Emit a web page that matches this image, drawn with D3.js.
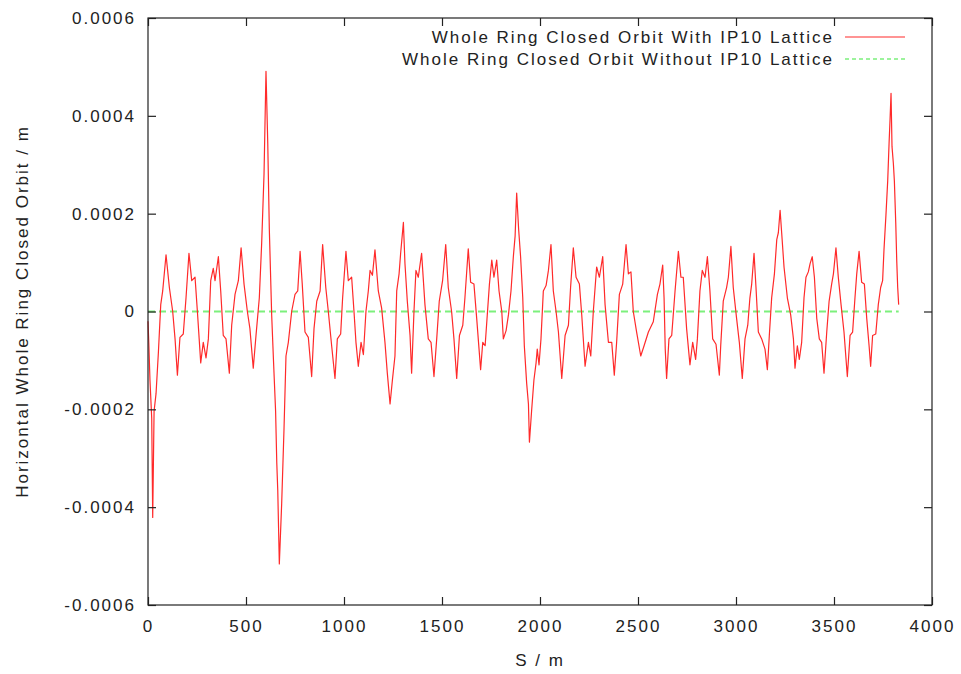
<!DOCTYPE html>
<html>
<head>
<meta charset="utf-8">
<script src="https://cdn.jsdelivr.net/npm/d3@7"></script>
<style>
  body { margin: 0; background: #fff; }
  text { font-family: "Liberation Sans", Arial, sans-serif; fill: #222; letter-spacing: 2px; }
</style>
</head>
<body>
<script>
// S position along the ring (m)
const sPos = [
  0, 4, 10, 19, 24, 31, 41, 53, 65, 75, 92, 109, 126, 138, 150, 163, 180, 194, 209, 223,
  240, 252, 269, 282, 296, 308, 320, 333, 342, 359, 371, 384, 398, 415, 427, 444, 461, 475, 490, 507,
  520, 537, 551, 568, 580, 592, 602, 611, 619, 631, 640, 651, 657, 662, 670, 682, 694, 704, 716, 733,
  750, 764, 776, 787, 801, 818, 835, 847, 861, 878, 891, 907, 920, 937, 954, 966, 983,
  993, 1010, 1022, 1039, 1051, 1061, 1073, 1087, 1099, 1112, 1124, 1133, 1145, 1158, 1175, 1192, 1209, 1221, 1235,
  1247, 1260, 1269, 1281, 1289, 1303, 1311, 1323, 1337, 1345, 1357, 1367, 1379, 1396, 1413, 1430, 1444, 1459, 1473,
  1486, 1503, 1519, 1532, 1549, 1561, 1575, 1589, 1606, 1617, 1634, 1646, 1663, 1677, 1689, 1697, 1708, 1720, 1742,
  1754, 1765, 1779, 1791, 1805, 1813, 1827, 1839, 1852, 1864, 1873, 1881, 1891, 1901, 1912, 1920, 1932, 1941, 1946,
  1957, 1969, 1980, 1986, 1995, 2005, 2017, 2031, 2043, 2056, 2068, 2082, 2094, 2111, 2128, 2145, 2156, 2170, 2184,
  2201, 2213, 2230, 2247, 2259, 2272, 2289, 2303, 2320, 2332, 2349, 2366, 2379, 2391, 2405, 2422, 2439, 2451, 2464,
  2476, 2493, 2514, 2531, 2553, 2578, 2599, 2612, 2626, 2633, 2639, 2646, 2658, 2672, 2689, 2706, 2719, 2731, 2748,
  2765, 2779, 2794, 2803, 2816, 2828, 2842, 2854, 2867, 2881, 2898, 2915,
  2922, 2935, 2952, 2961, 2974, 2986, 3003, 3017, 3032, 3046, 3060, 3071, 3080, 3092, 3102, 3114, 3131, 3148, 3160,
  3170, 3182, 3196, 3208, 3216, 3225, 3233, 3245, 3262, 3279, 3293, 3301, 3313, 3323, 3335, 3347, 3357, 3369, 3378,
  3389, 3400, 3412, 3425, 3437, 3449, 3463, 3475, 3488, 3497, 3510, 3522, 3536, 3551, 3568, 3582, 3595, 3607, 3616,
  3628, 3641, 3655, 3667, 3679, 3687, 3697, 3713, 3726, 3738, 3748, 3755, 3765, 3774, 3781, 3786, 3791, 3796, 3803,
  3808, 3815, 3820, 3825, 3830
];

// closed orbit with IP10 lattice, in units of 1e-4 m
const orbitWith = [
  -0.2, -0.63, -1.40, -2.18, -4.21, -2.04, -1.68, -0.84, 0.14, 0.42, 1.16, 0.49, 0, -0.56, -1.30, -0.53, -0.46, 0.28, 1.19, 0.63,
  0.70, 0, -1.05, -0.63, -0.95, -0.56, 0.63, 0.88, 0.63, 1.12, 0.42, -0.49, -0.56, -1.26, -0.28, 0.35, 0.63, 1.30, 0.56, 0,
  -0.35, -1.16, -0.49, 0.28, 1.40, 2.81, 4.91, 3.44, 1.68, -0.07, -0.98, -2.04, -3.09, -3.65, -5.16, -3.93, -2.39, -0.91, -0.63, 0,
  0.35, 0.42, 1.23, 0.56, -0.42, -0.53, -1.33, -0.35, 0.21, 0.42, 1.37, 0.49, 0, -0.70, -1.37, -0.56, -0.46,
  0.28, 1.23, 0.63, 0.70, 0, -0.63, -1.12, -0.63, -0.88, 0, 0.42, 0.84, 0.74, 1.26, 0.42, 0.07, -0.63, -1.26, -1.89,
  -1.40, -0.91, 0.42, 0.77, 1.19, 1.82, 0.98, 0.21, -0.49, -1.26, 0, 0.84, 0.70, 1.19, 0.14, -0.56, -0.63, -1.33, -0.56,
  0.21, 0.63, 1.37, 0.49, 0, -0.56, -1.37, -0.49, -0.28, 0.28, 1.28, 0.60, 0.56, -0.14, -0.77, -1.19, -0.63, -0.70, 0.56,
  1.05, 0.70, 1.05, 0.42, 0, -0.56, -0.39, -0.07, 0.42, 1.12, 1.54, 2.42, 1.68, 1.12, 0.28, -0.70, -1.47, -1.89, -2.67,
  -2.04, -1.40, -1.05, -0.77, -1.09, -0.56, 0.42, 0.53, 0.84, 1.37, 0.42, 0, -0.42, -1.37, -0.49, -0.28, 0.49, 1.30, 0.70,
  0.56, -0.07, -1.12, -0.63, -0.91, 0, 0.91, 0.70, 1.12, 0.14, -0.63, -0.63, -1.30, -0.63, 0.35, 0.56, 1.37, 0.77, 0.81,
  0, -0.42, -0.91, -0.70, -0.42, -0.21, 0.35, 0.56, 0.95, 0.28, -0.77, -1.37, -0.56, -0.49, 0.42, 1.23, 0.70, 0.70, -0.35,
  -1.09, -0.63, -0.98, -0.56, 0.42, 0.84, 0.70, 1.12, 0.42, -0.56, -0.67, -1.30,
  -0.70, 0.21, 0.49, 0.70, 1.33, 0.49, -0.14, -0.63, -1.37, -0.56, -0.28, 0.28, 0.56, 1.19, 0.49, -0.42, -0.56, -0.77, -1.19,
  -0.49, 0.28, 0.77, 1.47, 1.61, 2.07, 1.61, 0.91, 0.28, -0.07, -0.56, -1.16, -0.70, -0.98, -0.63, 0.28, 0.70, 0.81, 0.98,
  1.12, 0.70, -0.14, -0.56, -0.63, -1.26, -0.42, 0.21, 0.56, 0.77, 1.30, 0.70, 0.14, -0.42, -1.33, -0.49, -0.42, 0.28, 0.77,
  1.23, 0.60, 0.56, -0.14, -0.70, -1.12, -0.49, -0.46, 0.14, 0.49, 0.63, 1.26, 1.97, 2.67, 3.44, 3.93, 4.46, 3.37, 3.02,
  2.67, 1.82, 1.05, 0.49, 0.14
];

// closed orbit without IP10 lattice: flat at zero over the same range
const sWithout = [0, 3830];
const orbitWithout = [0, 0];

const xTicks = [0, 500, 1000, 1500, 2000, 2500, 3000, 3500, 4000];
const yTicks = [-0.0006, -0.0004, -0.0002, 0, 0.0002, 0.0004, 0.0006];
const legendLabels = ["Whole Ring Closed Orbit With IP10 Lattice", "Whole Ring Closed Orbit Without IP10 Lattice"];

const width = 961, height = 674;
const margin = {top: 18, right: 29, bottom: 69, left: 148};

const svg = d3.select("body").append("svg")
    .attr("width", width)
    .attr("height", height);

const x = d3.scaleLinear().domain([0, 4000]).range([margin.left, width - margin.right]);
const y = d3.scaleLinear().domain([-0.0006, 0.0006]).range([height - margin.bottom, margin.top]);

const withData = sPos.map((s, i) => ({s: s, v: orbitWith[i] * 1e-4}));
const withoutData = sWithout.map((s, i) => ({s: s, v: orbitWithout[i]}));

const line = d3.line().x(d => x(d.s)).y(d => y(d.v));

const red = "#ff2a2a", green = "#7cf07c";

// green flat line first, red on top
svg.append("path")
    .datum(withoutData)
    .attr("d", line)
    .attr("fill", "none")
    .attr("stroke", green)
    .attr("stroke-width", 2)
    .attr("stroke-dasharray", "7,4");

svg.append("path")
    .datum(withData)
    .attr("d", line)
    .attr("fill", "none")
    .attr("stroke", red)
    .attr("stroke-width", 1.2)
    .attr("stroke-linejoin", "round");

// ticks inward on all four sides
const tickLen = 8;
const fmtY = v => v === 0 ? "0" : d3.format(".4f")(v).replace("\u2212", "-");

svg.append("g")
    .attr("transform", `translate(0,${y(-0.0006)})`)
    .call(d3.axisBottom(x).tickValues(xTicks).tickSize(-tickLen).tickPadding(15).tickFormat(d3.format("d")))
    .call(g => g.select(".domain").remove());

svg.append("g")
    .attr("transform", `translate(0,${y(0.0006)})`)
    .call(d3.axisTop(x).tickValues(xTicks).tickSize(-tickLen).tickFormat(""))
    .call(g => g.select(".domain").remove());

svg.append("g")
    .attr("transform", `translate(${x(0)},0)`)
    .call(d3.axisLeft(y).tickValues(yTicks).tickSize(-tickLen).tickPadding(12).tickFormat(fmtY))
    .call(g => g.select(".domain").remove());

svg.append("g")
    .attr("transform", `translate(${x(4000)},0)`)
    .call(d3.axisRight(y).tickValues(yTicks).tickSize(-tickLen).tickFormat(""))
    .call(g => g.select(".domain").remove());

svg.selectAll(".tick line").attr("stroke", "#222").attr("stroke-width", 1.2);
svg.selectAll(".tick text").style("font-size", "17px").attr("fill", "#222");

// frame
svg.append("rect")
    .attr("x", x(0)).attr("y", y(0.0006))
    .attr("width", x(4000) - x(0)).attr("height", y(-0.0006) - y(0.0006))
    .attr("fill", "none")
    .attr("stroke", "#222")
    .attr("stroke-width", 1.2);

// legend
const legendColors = [red, green];
const legendDash = [null, "4,3"];
legendLabels.forEach((lab, i) => {
  const ly = 37 + i * 22;
  svg.append("text")
      .attr("x", 834).attr("y", ly)
      .attr("dy", "0.35em")
      .attr("text-anchor", "end")
      .style("font-size", "17px")
      .text(lab);
  svg.append("line")
      .attr("x1", 845).attr("x2", 905)
      .attr("y1", ly).attr("y2", ly)
      .attr("stroke", legendColors[i])
      .attr("stroke-width", i === 1 ? 1.5 : 1.2)
      .attr("stroke-dasharray", legendDash[i]);
});

// axis titles
svg.append("text")
    .attr("x", (x(0) + x(4000)) / 2).attr("y", 660)
    .attr("dy", "0.35em")
    .attr("text-anchor", "middle")
    .style("font-size", "17px")
    .text("S / m");

svg.append("text")
    .attr("transform", `translate(22,${(y(0.0006) + y(-0.0006)) / 2}) rotate(-90)`)
    .attr("dy", "0.35em")
    .attr("text-anchor", "middle")
    .style("font-size", "17px")
    .text("Horizontal Whole Ring Closed Orbit / m");
</script>
</body>
</html>
